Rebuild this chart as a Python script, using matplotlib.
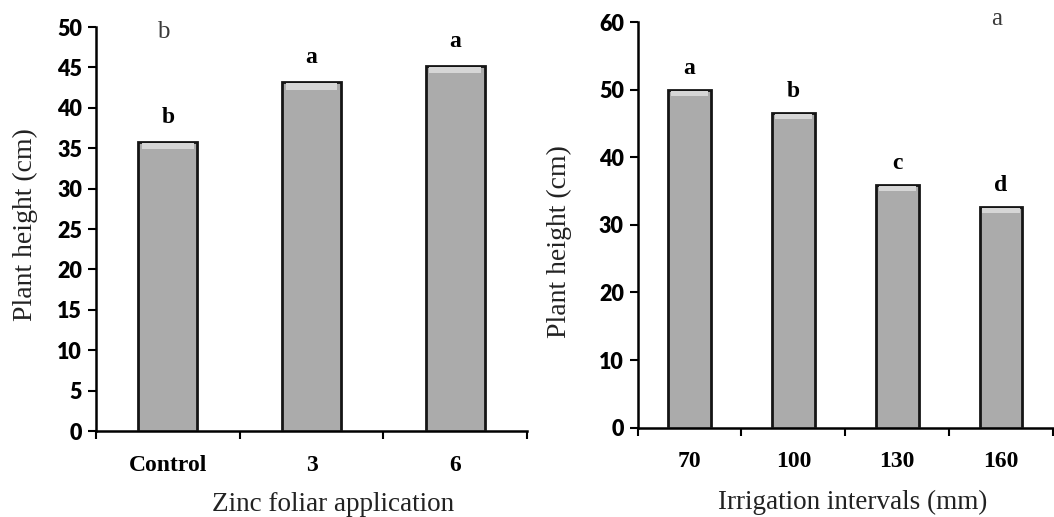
import matplotlib.pyplot as plt

# left panel: zinc foliar application
zinc_levels = ['Control', '3', '6']
zinc_height = [35.8, 43.2, 45.2]
zinc_letters = ['b', 'a', 'a']

# right panel: irrigation intervals
irr_levels = ['70', '100', '130', '160']
irr_height = [50.0, 46.5, 35.9, 32.6]
irr_letters = ['a', 'b', 'c', 'd']

bar_color = '#ababab'
edge_color = '#151515'
serif = 'Liberation Serif'

fig = plt.figure(figsize=(10.54, 5.17), dpi=100)
ax1 = fig.add_axes([0.0911, 0.1663, 0.4089, 0.7814])
ax2 = fig.add_axes([0.605, 0.1727, 0.394, 0.7847])


def style_axes(ax, n, ymax, ystep):
    ax.set_xlim(-0.5, n - 0.5)
    ax.set_ylim(0, ymax)
    ax.set_yticks(range(0, ymax + 1, ystep))
    ax.set_xticks([i + 0.5 for i in range(-1, n)])
    ax.set_xticklabels([])
    ax.set_xticks(list(range(n)), minor=True)
    ax.tick_params(axis='x', which='major', direction='out', length=6, width=1.5)
    ax.tick_params(axis='x', which='minor', length=0, pad=17)
    ax.tick_params(axis='y', direction='out', length=6, width=1.5, pad=4)
    for s in ['top', 'right']:
        ax.spines[s].set_visible(False)
    for s in ['left', 'bottom']:
        ax.spines[s].set_linewidth(1.8)
    for lab in ax.get_yticklabels():
        lab.set_fontfamily('Lato')
        lab.set_fontweight('heavy')
        lab.set_fontsize(15.5)


def draw_bars(ax, levels, heights, letters, offset):
    x = list(range(len(levels)))
    ax.bar(x, heights, width=0.41, color=bar_color, edgecolor=edge_color,
           linewidth=2, zorder=3)
    # light bevel on top of each bar
    ax.bar(x, [offset * 0.45] * len(x), bottom=[h - offset * 0.55 for h in heights],
           width=0.36, color='#d6d6d6', linewidth=0, zorder=4)
    for xi, h, t in zip(x, heights, letters):
        ax.text(xi, h + offset, t, ha='center', va='bottom', fontsize=17,
                fontweight='bold', family=serif)
    ax.set_xticklabels(levels, minor=True, fontsize=17, fontweight='bold',
                       family=serif)


style_axes(ax1, 3, 50, 5)
draw_bars(ax1, zinc_levels, zinc_height, zinc_letters, 1.7)
ax1.set_ylabel('Plant height (cm)', fontsize=20, family=serif, color='#222222')
ax1.yaxis.set_label_coords(-0.134, 0.512)
ax1.set_xlabel('Zinc foliar application', fontsize=19.5, family=serif,
               color='#222222')
ax1.xaxis.set_label_coords(0.55, -0.152)
ax1.text(-0.03, 49.4, 'b', ha='center', va='center', fontsize=18,
         family=serif, color='#3a3a3a')

style_axes(ax2, 4, 60, 10)
draw_bars(ax2, irr_levels, irr_height, irr_letters, 1.6)
ax2.set_ylabel('Plant height (cm)', fontsize=20, family=serif, color='#222222')
ax2.yaxis.set_label_coords(-0.158, 0.46)
ax2.set_xlabel('Irrigation intervals (mm)', fontsize=19.5, family=serif,
               color='#222222')
ax2.xaxis.set_label_coords(0.518, -0.152)
ax2.text(2.96, 60.5, 'a', ha='center', va='center', fontsize=18,
         family=serif, color='#3a3a3a', clip_on=False)

fig.savefig('out.png', dpi=100)
